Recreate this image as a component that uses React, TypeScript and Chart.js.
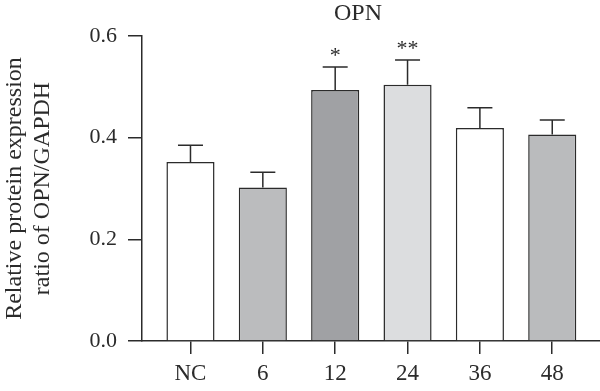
import React, { useEffect, useRef } from "react";
import { Chart, registerables } from "chart.js";

Chart.register(...registerables);

const categories = ["NC", "6", "12", "24", "36", "48"];
const means = [0.352, 0.302, 0.494, 0.504, 0.419, 0.406];
const errors = [0.033, 0.030, 0.045, 0.049, 0.040, 0.029];
const stars = ["", "", "*", "**", "", ""];
const barColors = ["#ffffff", "#bbbcbe", "#a0a1a4", "#dcdddf", "#ffffff", "#babbbd"];
const yTicks = [0, 0.2, 0.4, 0.6];
const chartTitle = "OPN";
const yTitle = ["Relative protein expression", "ratio of OPN/GAPDH"];

const FONT = "'Liberation Serif', 'DejaVu Serif', serif";
const INK = "#2b2b2b";

const errorBarPlugin = {
  id: "errorBars",
  afterDatasetsDraw(chart: any) {
    const { ctx, scales } = chart;
    const x = scales.x;
    const y = scales.y;
    ctx.save();
    ctx.strokeStyle = INK;
    ctx.lineWidth = 1.5;
    means.forEach((m, i) => {
      const px = x.getPixelForValue(i);
      const top = y.getPixelForValue(m);
      const et = y.getPixelForValue(m + errors[i]);
      ctx.beginPath();
      ctx.moveTo(px, top);
      ctx.lineTo(px, et);
      ctx.moveTo(px - 12.5, et);
      ctx.lineTo(px + 12.5, et);
      ctx.stroke();
      if (stars[i]) {
        ctx.fillStyle = INK;
        ctx.font = `22px ${FONT}`;
        ctx.textAlign = "center";
        ctx.textBaseline = "alphabetic";
        ctx.fillText(stars[i], px, et - 5);
      }
    });
    ctx.restore();
  },
};

const titlePlugin = {
  id: "customTitle",
  afterDraw(chart: any) {
    const { ctx } = chart;
    ctx.save();
    ctx.fillStyle = INK;
    ctx.font = `24px ${FONT}`;
    ctx.textAlign = "center";
    ctx.textBaseline = "middle";
    ctx.fillText(chartTitle, 358, 14);
    ctx.restore();
  },
};

export default function App() {
  const ref = useRef<HTMLCanvasElement | null>(null);
  useEffect(() => {
    if (!ref.current) return;
    const chart = new Chart(ref.current, {
      type: "bar",
      data: {
        datasets: [
          {
            data: means.map((v, i) => ({ x: i, y: v })),
            backgroundColor: barColors,
            borderColor: INK,
            borderWidth: 1.5,
            categoryPercentage: 1,
            barPercentage: 0.665,
          },
        ],
      },
      options: {
        animation: false,
        responsive: false,
        layout: { padding: { top: 36, right: 0, left: 0, bottom: 0 } },
        plugins: { legend: { display: false }, tooltip: { enabled: false }, title: { display: false } },
        scales: {
          x: {
            type: "linear",
            offset: false,
            min: -0.67,
            max: 5.66,
            afterBuildTicks: (s: any) => {
              s.ticks = categories.map((_, i) => ({ value: i }));
            },
            afterFit: (s: any) => {
              s.height = 50;
            },
            ticks: {
              callback: (v: any) => categories[v as number] ?? "",
              color: INK,
              font: { family: FONT, size: 23 },
              padding: 6,
              maxRotation: 0,
              autoSkip: false,
            },
            grid: { offset: false, drawOnChartArea: false, drawTicks: true, tickLength: 13, color: INK, lineWidth: 1.5 },
            border: { display: true, color: INK, width: 1.5 },
          },
          y: {
            min: 0,
            max: 0.6,
            afterBuildTicks: (s: any) => {
              s.ticks = yTicks.map((v) => ({ value: v }));
            },
            afterFit: (s: any) => {
              s.width = 142;
            },
            ticks: {
              callback: (v: any) => Number(v).toFixed(1),
              color: INK,
              font: { family: FONT, size: 22 },
              padding: 11,
            },
            grid: { drawOnChartArea: false, drawTicks: true, tickLength: 14, color: INK, lineWidth: 1.5 },
            border: { display: true, color: INK, width: 1.5 },
            title: {
              display: true,
              text: yTitle,
              color: INK,
              font: { family: FONT, size: 24, lineHeight: 1.2 },
              padding: { top: 0, bottom: 0 },
            },
          },
        },
      },
      plugins: [errorBarPlugin, titlePlugin],
    });
    return () => chart.destroy();
  }, []);
  return (
    <div style={{ position: "fixed", left: 0, top: 0, width: 600, height: 391, background: "#fff" }}>
      <canvas ref={ref} width={600} height={391} />
    </div>
  );
}
